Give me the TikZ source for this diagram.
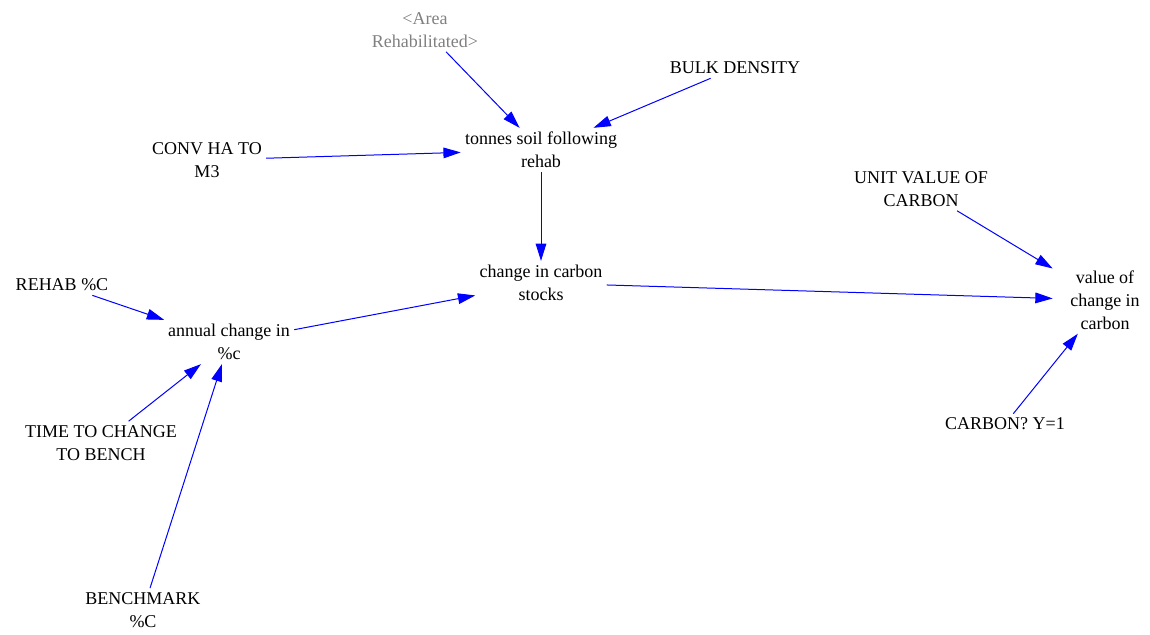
\documentclass[tikz,border=0pt]{standalone}
\usepackage{fontspec}
\setmainfont{Liberation Serif}
\newfontfamily\varfont{Liberation Serif}
\usetikzlibrary{arrows.meta}
\definecolor{linkblue}{RGB}{0,0,255}
\definecolor{shadowgray}{RGB}{128,128,128}

\begin{document}
\begin{tikzpicture}[x=0.75pt,y=-0.75pt,
    var/.style={align=center,inner sep=3pt,font=\varfont\fontsize{13.5}{17.25}\selectfont},
    shadow/.style={var,text=shadowgray},
    link/.style={draw=linkblue,line width=0.75pt,-{Triangle[length=13pt,width=8pt]}}]
    \useasboundingbox (0,0) rectangle (1150,635);
    % variables
    \node[shadow] (area) at (425,30) {<Area\\Rehabilitated>};
    \node[var] (bulk) at (735,68) {BULK DENSITY};
    \node[var] (tonnes) at (541,150) {tonnes soil following\\rehab};
    \node[var] (conv) at (207,160) {CONV HA TO\\M3};
    \node[var] (unitval) at (921,189) {UNIT VALUE OF\\CARBON};
    \node[var] (stocks) at (541,283) {change in carbon\\stocks};
    \node[var] (rehabc) at (62,285) {REHAB \%C};
    \node[var] (annual) at (229,342) {annual change in\\\%c};
    \node[var,inner xsep=13pt] (value) at (1105,300) {value of\\change in\\carbon};
    \node[var] (timebench) at (101,443) {TIME TO CHANGE\\TO BENCH};
    \node[var] (carbonyn) at (1005,424) {CARBON? Y=1};
    \node[var] (bench) at (143,610) {BENCHMARK\\\%C};
    % links
    \draw[link] (area) -- (tonnes);
    \draw[link] (bulk) -- (tonnes);
    \draw[link] (conv) -- (tonnes);
    \draw[link] (tonnes) -- (stocks);
    \draw[link] (stocks) -- (value);
    \draw[link] (unitval) -- (value);
    \draw[link] (carbonyn) -- (value);
    \draw[link] (rehabc) -- (annual);
    \draw[link] (annual) -- (stocks);
    \draw[link] (timebench) -- (annual);
    \draw[link] (bench) -- (annual);
\end{tikzpicture}
\end{document}
